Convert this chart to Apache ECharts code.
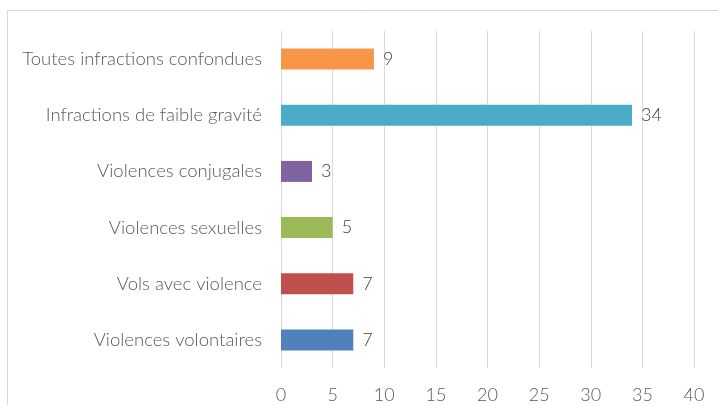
<!DOCTYPE html>
<html>
<head>
<meta charset="utf-8">
<script src="https://cdn.jsdelivr.net/npm/echarts@6/dist/echarts.min.js"></script>
<style>
  html, body { margin: 0; padding: 0; background: #fff; }
  #chart { width: 718px; height: 405px; }
</style>
</head>
<body>
<div id="chart"></div>
<script>
// bottom to top, as on the picture
const categories = [
  "Violences volontaires",
  "Vols avec violence",
  "Violences sexuelles",
  "Violences conjugales",
  "Infractions de faible gravité",
  "Toutes infractions confondues"
];
const values = [7, 7, 5, 3, 34, 9];
const barColors = ["#4F81BD", "#C0504D", "#9BBB59", "#8064A2", "#4BACC6", "#F79646"];

const fontName = "Lato";

const chart = echarts.init(document.getElementById("chart"));
chart.setOption({
  animation: false,
  graphic: [
    {
      type: "rect",
      shape: { x: 7.5, y: 10.5, width: 740, height: 420 },
      style: { fill: "none", stroke: "#d9d9d9", lineWidth: 1 },
      silent: true
    }
  ],
  grid: { left: 281, right: 24, top: 31, bottom: 37 },
  xAxis: {
    type: "value",
    min: 0,
    max: 40,
    interval: 5,
    axisLine: { show: false },
    axisTick: { show: false },
    splitLine: { show: true, lineStyle: { color: "#d9d9d9", width: 1 } },
    axisLabel: {
      color: "#595959",
      fontFamily: fontName,
      fontWeight: 300,
      fontSize: 18,
      margin: 18
    }
  },
  yAxis: {
    type: "category",
    data: categories,
    axisLine: { show: false },
    axisTick: { show: false },
    axisLabel: {
      color: "#595959",
      fontFamily: fontName,
      fontWeight: 300,
      fontSize: 18.5,
      margin: 19
    }
  },
  series: [
    {
      type: "bar",
      barWidth: 21,
      data: values.map((v, i) => ({ value: v, itemStyle: { color: barColors[i] } })),
      label: {
        show: true,
        position: "right",
        distance: 9,
        color: "#404040",
        fontFamily: fontName,
        fontWeight: 300,
        fontSize: 18
      }
    }
  ]
});
</script>
</body>
</html>
